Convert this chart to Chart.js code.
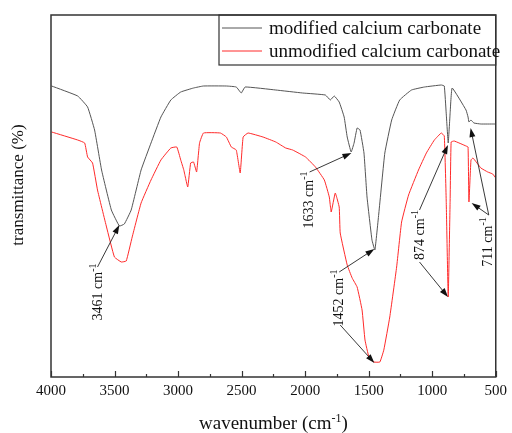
<!DOCTYPE html>
<html>
<head>
<meta charset="utf-8">
<script src="https://cdn.jsdelivr.net/npm/chart.js@4.4.1/dist/chart.umd.min.js"></script>
<style>
  html, body { margin: 0; padding: 0; background: #fff; }
  #wrap { width: 512px; height: 433px; position: relative; }
</style>
</head>
<body>
<div id="wrap"><canvas id="ftirChart"></canvas></div>
<script>
// Spectrum data (wavenumber in cm-1, transmittance in arbitrary units)
const modWavenumber = [3995, 3790, 3712, 3657, 3602, 3525, 3462, 3423, 3369, 3291, 3213, 3135, 3057, 2979, 2878, 2800, 2620, 2542, 2503, 2472, 2231, 2020, 1841, 1802, 1771, 1732, 1693, 1669, 1638, 1615, 1591, 1568, 1537, 1513, 1474, 1451, 1420, 1373, 1319, 1256, 1163, 1061, 929, 905, 890, 874, 859, 843, 734, 718, 711, 695, 672, 617, 516, 500];
const modTransmittance = [291, 281, 270, 247, 207, 167, 151, 153, 167, 207, 234, 260, 277, 285, 289, 291, 291, 290, 284, 290, 287, 284, 282, 277, 281, 275, 260, 240, 225, 234, 249, 247, 224, 180, 137, 127, 164, 224, 257, 277, 287, 290, 292, 291, 264, 234, 264, 289, 267, 260, 255, 257, 254, 253, 253, 253];

const unmodWavenumber = [3995, 3790, 3735, 3712, 3673, 3634, 3563, 3501, 3447, 3408, 3361, 3291, 3213, 3135, 3057, 3010, 2979, 2955, 2924, 2901, 2878, 2854, 2831, 2800, 2667, 2620, 2581, 2542, 2511, 2488, 2449, 2332, 2231, 2153, 2098, 1997, 1919, 1849, 1810, 1795, 1763, 1732, 1724, 1669, 1630, 1591, 1552, 1529, 1498, 1459, 1412, 1381, 1334, 1280, 1241, 1186, 1108, 1046, 983, 929, 905, 890, 874, 859, 851, 827, 734, 718, 711, 695, 679, 617, 563, 524, 500];
const unmodTransmittance = [245, 237, 234, 220, 214, 187, 150, 120, 115, 116, 140, 174, 197, 217, 229, 230, 217, 207, 190, 214, 215, 205, 234, 244, 244, 240, 230, 227, 204, 240, 244, 240, 235, 229, 227, 220, 210, 197, 180, 165, 184, 170, 144, 112, 99, 90, 67, 37, 20, 15, 15, 27, 60, 110, 155, 182, 207, 224, 237, 244, 241, 177, 80, 177, 235, 236, 231, 230, 175, 217, 219, 209, 205, 203, 199];

const seriesNames = ['modified calcium carbonate', 'unmodified calcium carbonate'];
const seriesColors = ['#555555', '#ff2a2a'];
const xTicks = [4000, 3500, 3000, 2500, 2000, 1500, 1000, 500];

const serif = "'Liberation Serif', 'Times New Roman', serif";

// Peak annotations: arrow tips and tails, label centre (all in data units)
const annotations = [
  { text: '3461 cm', label: [3641, 85], arrows: [[[3634, 110], [3462, 152]]] },
  { text: '1633 cm', label: [1973, 177], arrows: [[[1965, 205], [1636, 224]]] },
  { text: '1452 cm', label: [1740, 79], arrows: [[[1732, 105], [1455, 128]], [[1724, 52], [1455, 14]]] },
  { text: '874 cm', label: [1100, 142], arrows: [[[1100, 167], [876, 232]], [[1100, 115], [876, 80]]] },
  { text: '711 cm', label: [570, 135], arrows: [[[555, 162], [690, 174]], [[555, 162], [698, 249]]] }
];

function makePoints(xs, ys) {
  return xs.map((x, i) => ({ x: x, y: ys[i] }));
}

function drawArrow(ctx, x1, y1, x2, y2) {
  const ang = Math.atan2(y2 - y1, x2 - x1);
  const len = 9, half = 3;
  ctx.beginPath();
  ctx.moveTo(x1, y1);
  ctx.lineTo(x2 - Math.cos(ang) * len * 0.8, y2 - Math.sin(ang) * len * 0.8);
  ctx.stroke();
  ctx.beginPath();
  ctx.moveTo(x2, y2);
  ctx.lineTo(x2 - Math.cos(ang) * len - Math.sin(ang) * half, y2 - Math.sin(ang) * len + Math.cos(ang) * half);
  ctx.lineTo(x2 - Math.cos(ang) * len + Math.sin(ang) * half, y2 - Math.sin(ang) * len - Math.cos(ang) * half);
  ctx.closePath();
  ctx.fill();
}

// text with a "-1" superscript (plus optional tail), centred at (0,0) of the current transform
function drawSupText(ctx, main, size, supSize, rise, tail) {
  tail = tail || '';
  ctx.font = size + 'px ' + serif;
  const w1 = ctx.measureText(main).width;
  const w3 = ctx.measureText(tail).width;
  ctx.font = supSize + 'px ' + serif;
  const w2 = ctx.measureText('-1').width;
  const start = -(w1 + w2 + w3) / 2;
  ctx.textAlign = 'left';
  ctx.textBaseline = 'alphabetic';
  ctx.font = size + 'px ' + serif;
  ctx.fillText(main, start, size * 0.35);
  if (tail) ctx.fillText(tail, start + w1 + w2, size * 0.35);
  ctx.font = supSize + 'px ' + serif;
  ctx.fillText('-1', start + w1, size * 0.35 - rise);
}

const decorations = {
  id: 'decorations',
  afterDraw(chart) {
    const ctx = chart.ctx;
    const area = chart.chartArea;
    const xs = chart.scales.x, ys = chart.scales.y;
    ctx.save();

    // frame
    ctx.strokeStyle = '#333';
    ctx.lineWidth = 1.5;
    ctx.strokeRect(area.left, area.top, area.right - area.left, area.bottom - area.top);

    // inward ticks on bottom axis
    ctx.lineWidth = 1.2;
    for (let v = 500; v <= 4000; v += 250) {
      const px = Math.round(xs.getPixelForValue(v)) + 0.5;
      const len = v % 500 === 0 ? 6 : 3;
      ctx.beginPath();
      ctx.moveTo(px, area.bottom);
      ctx.lineTo(px, area.bottom - len);
      ctx.stroke();
    }

    // legend
    const lx = 219, ly = area.top;
    ctx.lineWidth = 1.2;
    ctx.strokeRect(lx, ly, area.right - lx, 50);
    ctx.font = '19px ' + serif;
    ctx.textAlign = 'left';
    ctx.textBaseline = 'middle';
    seriesNames.forEach((name, i) => {
      const y = ly + 13 + i * 23;
      ctx.strokeStyle = seriesColors[i];
      ctx.lineWidth = 1;
      ctx.beginPath();
      ctx.moveTo(222, y);
      ctx.lineTo(262, y);
      ctx.stroke();
      ctx.fillStyle = '#111';
      ctx.fillText(name, 269, y + 1);
    });

    // annotations
    ctx.strokeStyle = '#222';
    ctx.fillStyle = '#111';
    ctx.lineWidth = 0.9;
    annotations.forEach(a => {
      a.arrows.forEach(ar => {
        drawArrow(ctx,
          xs.getPixelForValue(ar[0][0]), ys.getPixelForValue(ar[0][1]),
          xs.getPixelForValue(ar[1][0]), ys.getPixelForValue(ar[1][1]));
      });
      ctx.save();
      ctx.translate(xs.getPixelForValue(a.label[0]), ys.getPixelForValue(a.label[1]));
      ctx.rotate(-Math.PI / 2);
      ctx.fillStyle = '#111';
      drawSupText(ctx, a.text, 14, 10, 6);
      ctx.restore();
    });

    // axis titles
    ctx.fillStyle = '#111';
    ctx.save();
    ctx.translate((area.left + area.right) / 2, 422);
    drawSupText(ctx, 'wavenumber (cm', 19, 12, 7, ')');
    ctx.restore();

    ctx.save();
    ctx.translate(19, 185);
    ctx.rotate(-Math.PI / 2);
    ctx.font = '17px ' + serif;
    ctx.textAlign = 'center';
    ctx.textBaseline = 'middle';
    ctx.fillText('transmittance (%)', 0, 0);
    ctx.restore();

    ctx.restore();
  }
};

const ctx = document.getElementById('ftirChart');
new Chart(ctx, {
  type: 'line',
  data: {
    datasets: [
      {
        label: seriesNames[1],
        data: makePoints(unmodWavenumber, unmodTransmittance),
        borderColor: seriesColors[1],
        borderWidth: 1,
        pointRadius: 0,
        tension: 0.1
      },
      {
        label: seriesNames[0],
        data: makePoints(modWavenumber, modTransmittance),
        borderColor: seriesColors[0],
        borderWidth: 1,
        pointRadius: 0,
        tension: 0.1
      }
    ]
  },
  options: {
    responsive: true,
    maintainAspectRatio: false,
    animation: false,
    layout: { padding: { left: 0, top: 15, right: 12, bottom: 0 } },
    plugins: {
      legend: { display: false },
      tooltip: { enabled: false }
    },
    scales: {
      x: {
        type: 'linear',
        reverse: true,
        min: 500,
        max: 4000,
        afterBuildTicks: (s) => { s.ticks = xTicks.map(v => ({ value: v })); },
        afterFit: (s) => { s.height = 56; },
        grid: { display: false, drawTicks: false },
        border: { display: false },
        ticks: {
          padding: 5,
          maxRotation: 0,
          autoSkip: false,
          color: '#111',
          font: { family: serif, size: 15 },
          callback: (v) => String(v)
        }
      },
      y: {
        min: 0,
        max: 362,
        afterFit: (s) => { s.width = 51; },
        grid: { display: false, drawTicks: false },
        border: { display: false },
        ticks: { display: false }
      }
    }
  },
  plugins: [decorations]
});
</script>
</body>
</html>
